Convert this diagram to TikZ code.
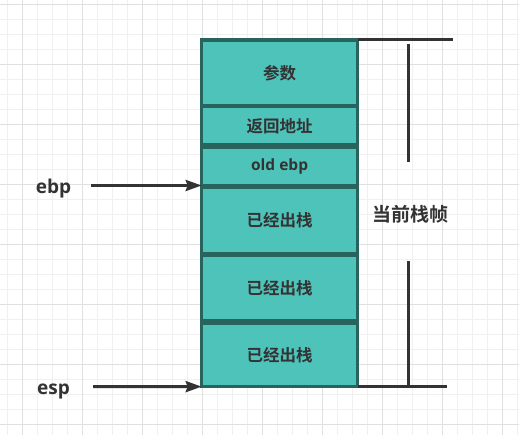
\documentclass[tikz,border=0pt]{standalone}
\usepackage{fontspec}
\usepackage{tikz}
\usetikzlibrary{arrows.meta, positioning, calc}
\newfontfamily\cjk{Noto Sans CJK SC}[BoldFont={Noto Sans CJK SC Bold}]
\newfontfamily\lat{Open Sans}
\definecolor{stackFill}{RGB}{78, 195, 185}
\definecolor{stackLine}{RGB}{40, 99, 93}
\definecolor{inkGray}{RGB}{51, 51, 51}
\definecolor{gridMinor}{RGB}{240, 240, 240}
\definecolor{gridMajor}{RGB}{224, 224, 224}

\begin{document}
\begin{tikzpicture}[x=1pt, y=-1pt,
  blk/.style={draw=stackLine, fill=stackFill, line width=3.5pt,
              minimum width=155.8pt, inner sep=0pt, outer sep=0pt,
              text=inkGray, font=\cjk\bfseries\fontsize{16.5}{18}\selectfont},
  reg/.style={text=inkGray, font=\lat\bfseries\fontsize{19}{22}\selectfont, anchor=base},
  ptr/.style={-{Stealth[length=16pt, width=11pt, inset=2pt]}, line width=3pt, draw=inkGray},
  brk/.style={line width=3pt, draw=inkGray}]

  \useasboundingbox (0,0) rectangle (519,435);
  \fill[white] (0,0) rectangle (519,435);
  % grid paper
  \foreach \gx in {7.5,22.5,...,517.5}
    \draw[gridMinor, line width=1pt] (\gx,0) -- (\gx,435);
  \foreach \gy in {4.5,19.5,...,434.5}
    \draw[gridMinor, line width=1pt] (0,\gy) -- (519,\gy);
  \foreach \gx in {22.5,82.5,...,502.5}
    \draw[gridMajor, line width=1pt] (\gx,0) -- (\gx,435);
  \foreach \gy in {4.5,64.5,...,424.5}
    \draw[gridMajor, line width=1pt] (0,\gy) -- (519,\gy);

  % stack blocks
  \node[blk, minimum height=65.5pt] (args)   at (279.6,72.75)  {参数};
  \node[blk, minimum height=38.5pt] (ret)    at (279.6,125.75) {返回地址};
  \node[blk, minimum height=38.5pt, font=\lat\bfseries\fontsize{15.5}{18}\selectfont]
                                    (oldebp) at (279.6,166.25) {old ebp};
  \node[blk, minimum height=66pt]   (pop1)   at (279.6,220.5)  {已经出栈};
  \node[blk, minimum height=65.5pt] (pop2)   at (279.6,288.25) {已经出栈};
  \node[blk, minimum height=63.5pt] (pop3)   at (279.6,354.9)  {已经出栈};

  % registers
  \node[reg] (ebp) at (53.5,194) {ebp};
  \node[reg] (esp) at (53.5,394) {esp};
  \coordinate (ebptail) at (91,185.5);
  \coordinate (esptail) at (93,386.6);
  \draw[ptr] (ebptail) -- (oldebp.south west);
  \draw[ptr] (esptail) -- (pop3.south west);

  % current frame bracket
  \node[text=inkGray, font=\cjk\bfseries\fontsize{19}{22}\selectfont] (frame) at (410,214) {当前栈帧};
  \draw[brk] (args.north east) -- ++(95.5,0);
  \draw[brk] (pop3.south east) -- ++(89.5,0);
  \draw[brk] (408,44) -- (408,162);
  \draw[brk] (408,261) -- (408,386.6);

\end{tikzpicture}
\end{document}
